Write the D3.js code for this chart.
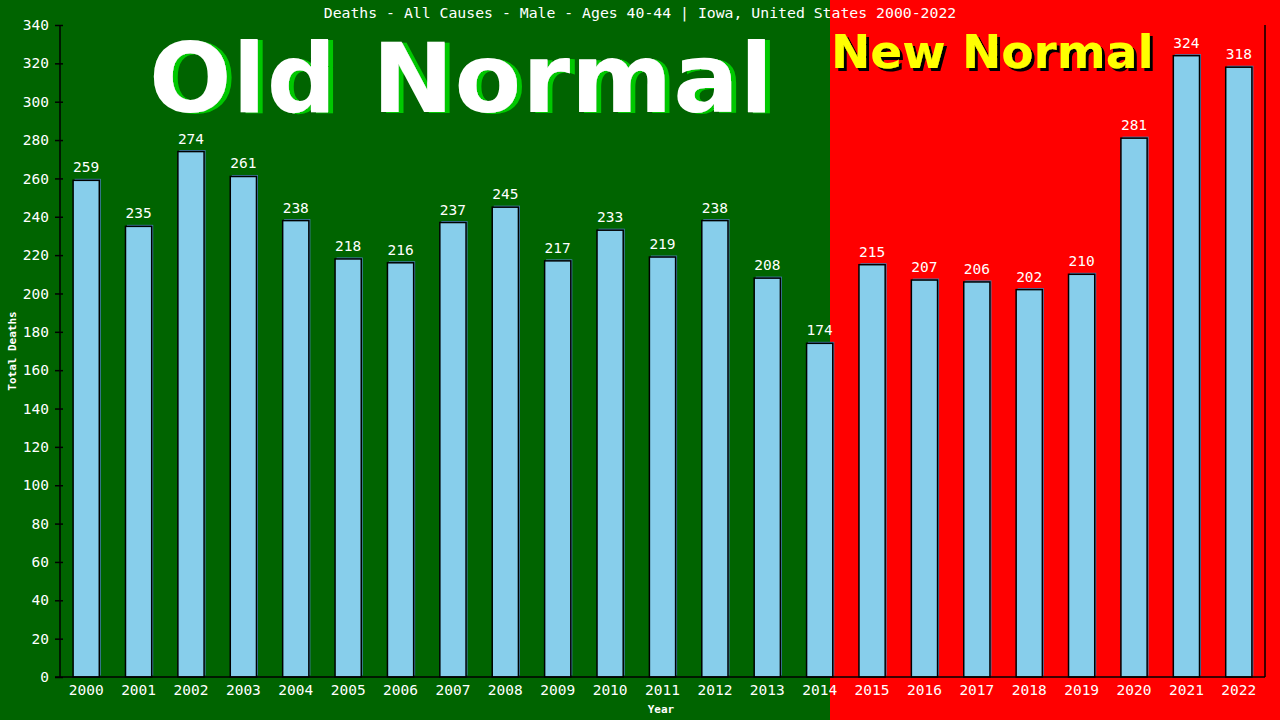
<!DOCTYPE html>
<html>
<head>
<meta charset="utf-8">
<script src="https://cdn.jsdelivr.net/npm/d3@7"></script>
<style>
  body { margin: 0; background: #006400; }
  svg { display: block; }
</style>
</head>
<body>
<div id="vis"></div>
<script>
const FRAME_WIDTH = 1280;
const FRAME_HEIGHT = 720;
const MARGINS = {left: 60, right: 15, top: 25, bottom: 43};

// data
const years = ["2000", "2001", "2002", "2003", "2004", "2005", "2006", "2007",
               "2008", "2009", "2010", "2011", "2012", "2013", "2014", "2015",
               "2016", "2017", "2018", "2019", "2020", "2021", "2022"];
const deaths = [259, 235, 274, 261, 238, 218, 216, 237, 245, 217, 233, 219,
                238, 208, 174, 215, 207, 206, 202, 210, 281, 324, 318];
const yTicks = d3.range(0, 341, 20);

const TITLE = "Deaths - All Causes - Male - Ages 40-44 | Iowa, United States 2000-2022";
const MONO = "'DejaVu Sans Mono', monospace";

const VIS_WIDTH = FRAME_WIDTH - MARGINS.left - MARGINS.right;
const VIS_HEIGHT = FRAME_HEIGHT - MARGINS.top - MARGINS.bottom;

const svg = d3.select("#vis")
  .append("svg")
    .attr("width", FRAME_WIDTH)
    .attr("height", FRAME_HEIGHT);

// drop shadow filters for the two big labels
const defs = svg.append("defs");
function shadow(id, dx, dy, color) {
  const f = defs.append("filter").attr("id", id)
      .attr("x", "-5%").attr("y", "-10%").attr("width", "115%").attr("height", "130%");
  f.append("feOffset").attr("in", "SourceAlpha").attr("dx", dx).attr("dy", dy).attr("result", "off");
  f.append("feFlood").attr("flood-color", color);
  f.append("feComposite").attr("in2", "off").attr("operator", "in").attr("result", "sh");
  const m = f.append("feMerge");
  m.append("feMergeNode").attr("in", "sh");
  m.append("feMergeNode").attr("in", "SourceGraphic");
}
shadow("greenShadow", 5, 1, "#00c800");
shadow("blackShadow", 3, 3, "#000000");

// backgrounds: green for old normal, red from the split onward
const SPLIT_X = 830;
svg.append("rect")
    .attr("x", 0).attr("y", 0)
    .attr("width", FRAME_WIDTH).attr("height", FRAME_HEIGHT)
    .attr("fill", "#006400");
svg.append("rect")
    .attr("x", SPLIT_X).attr("y", 0)
    .attr("width", FRAME_WIDTH - SPLIT_X).attr("height", FRAME_HEIGHT)
    .attr("fill", "#ff0000");

// big labels
svg.append("text")
    .attr("x", 149).attr("y", 111.5)
    .attr("font-family", "'DejaVu Sans', Verdana, sans-serif")
    .attr("font-weight", "bold").attr("font-size", 97)
    .attr("textLength", 624).attr("lengthAdjust", "spacing")
    .attr("fill", "#ffffff")
    .attr("filter", "url(#greenShadow)")
    .text("Old Normal");

svg.append("text")
    .attr("x", 831).attr("y", 68)
    .attr("font-family", "'DejaVu Sans', Verdana, sans-serif")
    .attr("font-weight", "bold").attr("font-size", 47)
    .attr("fill", "#ffff00")
    .attr("filter", "url(#blackShadow)")
    .text("New Normal");

// title
svg.append("text")
    .attr("x", FRAME_WIDTH / 2)
    .attr("y", 17.5)
    .attr("text-anchor", "middle")
    .attr("font-family", MONO)
    .attr("font-size", 14.8)
    .attr("fill", "#ffffff")
    .text(TITLE);

const X_SCALE = d3.scaleBand()
  .domain(years)
  .range([MARGINS.left, MARGINS.left + VIS_WIDTH])
  .paddingInner(0.5)
  .paddingOuter(0.25);

const Y_SCALE = d3.scaleLinear()
  .domain([0, 340])
  .range([MARGINS.top + VIS_HEIGHT, MARGINS.top]);

const bars = svg.selectAll(".bar")
  .data(years.map((y, i) => ({year: y, value: deaths[i]})))
  .enter()
  .append("g");

// steelblue shadow behind each bar
bars.append("rect")
    .attr("x", (d) => X_SCALE(d.year) + 1.5)
    .attr("y", (d) => Y_SCALE(d.value) - 1.5)
    .attr("width", X_SCALE.bandwidth())
    .attr("height", (d) => Y_SCALE(0) - Y_SCALE(d.value))
    .attr("fill", "#4682b4");

bars.append("rect")
    .attr("x", (d) => X_SCALE(d.year))
    .attr("y", (d) => Y_SCALE(d.value))
    .attr("width", X_SCALE.bandwidth())
    .attr("height", (d) => Y_SCALE(0) - Y_SCALE(d.value))
    .attr("fill", "#87ceeb")
    .attr("stroke", "#000000")
    .attr("stroke-width", 1.5);

bars.append("text")
    .attr("x", (d) => X_SCALE(d.year) + X_SCALE.bandwidth() / 2)
    .attr("y", (d) => Y_SCALE(d.value) - 8)
    .attr("text-anchor", "middle")
    .attr("font-family", MONO)
    .attr("font-size", 14.5)
    .attr("fill", "#ffffff")
    .text((d) => d.value);

// y axis
const yAxis = svg.append("g")
  .attr("transform", "translate(" + MARGINS.left + ",0)")
  .call(d3.axisLeft(Y_SCALE).tickValues(yTicks).tickSize(5).tickPadding(6));
yAxis.select(".domain").remove();
yAxis.selectAll(".tick line").attr("x1", 3).attr("stroke", "#000").attr("stroke-width", 1.5);
yAxis.selectAll(".tick text")
    .attr("font-family", MONO).attr("font-size", 14.5).attr("fill", "#ffffff");
svg.append("line")
    .attr("x1", MARGINS.left).attr("x2", MARGINS.left)
    .attr("y1", MARGINS.top).attr("y2", Y_SCALE(0))
    .attr("stroke", "#000").attr("stroke-width", 1.5);

// x axis
const xAxis = svg.append("g")
  .attr("transform", "translate(0," + Y_SCALE(0) + ")")
  .call(d3.axisBottom(X_SCALE).tickSize(0).tickPadding(8));
xAxis.select(".domain").remove();
xAxis.selectAll(".tick text")
    .attr("font-family", MONO).attr("font-size", 14.5).attr("fill", "#ffffff");
svg.append("line")
    .attr("x1", MARGINS.left - 5).attr("x2", MARGINS.left + VIS_WIDTH)
    .attr("y1", Y_SCALE(0)).attr("y2", Y_SCALE(0))
    .attr("stroke", "#000").attr("stroke-width", 1.5);

// right border
svg.append("line")
    .attr("x1", MARGINS.left + VIS_WIDTH).attr("x2", MARGINS.left + VIS_WIDTH)
    .attr("y1", MARGINS.top).attr("y2", Y_SCALE(0))
    .attr("stroke", "#000").attr("stroke-width", 1.5);

// axis titles
svg.append("text")
    .attr("transform", "translate(16," + (MARGINS.top + VIS_HEIGHT / 2) + ") rotate(-90)")
    .attr("text-anchor", "middle")
    .attr("font-family", MONO).attr("font-weight", "bold").attr("font-size", 11)
    .attr("fill", "#ffffff")
    .text("Total Deaths");

svg.append("text")
    .attr("x", 661).attr("y", 713)
    .attr("text-anchor", "middle")
    .attr("font-family", MONO).attr("font-weight", "bold").attr("font-size", 11)
    .attr("fill", "#ffffff")
    .text("Year");
</script>
</body>
</html>
